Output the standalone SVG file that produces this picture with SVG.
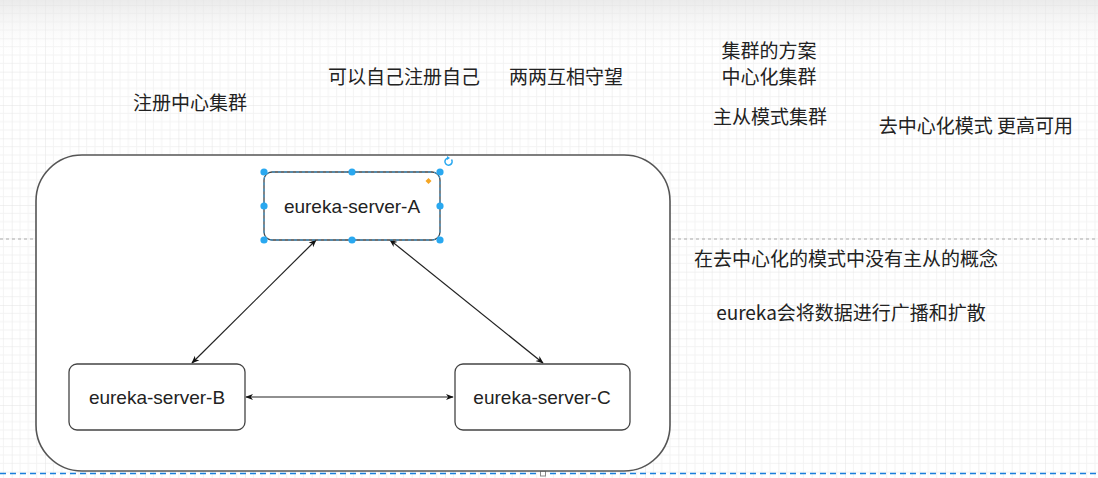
<svg xmlns="http://www.w3.org/2000/svg" width="1098" height="478" viewBox="0 0 1098 478">
<defs>
<pattern id="grid" patternUnits="userSpaceOnUse" x="11.7" y="5" width="33.333" height="33.333">
<path d="M8.333 0V33.333M16.667 0V33.333M25 0V33.333M0 8.333H33.333M0 16.667H33.333M0 25H33.333" stroke="#f3f3f3" stroke-width="1" fill="none"/>
<path d="M0 0V33.333M0 0H33.333" stroke="#e4e4e4" stroke-width="1" fill="none"/>
</pattern>
<linearGradient id="topfade" x1="0" y1="0" x2="0" y2="1">
<stop offset="0" stop-color="#e2e2e2" stop-opacity="0.7"/>
<stop offset="1" stop-color="#ffffff" stop-opacity="0"/>
</linearGradient>
<marker id="arr" viewBox="0 0 10 10" refX="9" refY="5" markerWidth="8" markerHeight="8" markerUnits="userSpaceOnUse" orient="auto-start-reverse">
<path d="M0 1L10 5L0 9L3 5Z" fill="#111"/>
</marker>
</defs>
<style>
.t{font-family:"Noto Sans CJK SC","Liberation Sans",sans-serif;font-size:19px;fill:#222;text-anchor:middle}
.n{font-family:"Liberation Sans","Noto Sans CJK SC",sans-serif;font-size:19px;fill:#222;text-anchor:middle}
.box{fill:#fff;stroke:#444;stroke-width:1.3}
.edge{stroke:#222;stroke-width:1.2;fill:none;marker-start:url(#arr);marker-end:url(#arr)}
.h{fill:#29a8f0}
</style>
<rect width="1098" height="478" fill="#fff"/>
<rect width="1098" height="478" fill="url(#grid)"/>
<rect width="1098" height="60" fill="url(#topfade)"/>
<line x1="0" y1="239" x2="1098" y2="239" stroke="#aaa" stroke-width="1" stroke-dasharray="3,3"/>
<line x1="0" y1="473.5" x2="1098" y2="473.5" stroke="#1a7fdc" stroke-width="1.5" stroke-dasharray="6,4"/>
<rect x="540.5" y="471" width="5" height="5" fill="#fff" stroke="#888" stroke-width="1"/>

<g id="cluster">
<rect x="36" y="155" width="634" height="316" rx="46" ry="46" fill="#fff" stroke="#555" stroke-width="1.6"/>
</g>

<g id="labels">
<text class="t" x="190" y="110">注册中心集群</text>
<text class="t" x="404" y="84">可以自己注册自己</text>
<text class="t" x="566" y="84">两两互相守望</text>
<text class="t" x="769" y="58">集群的方案</text>
<text class="t" x="769" y="84">中心化集群</text>
<text class="t" x="770" y="124">主从模式集群</text>
<text class="t" x="976" y="133">去中心化模式 更高可用</text>
<text class="t" x="846" y="266">在去中心化的模式中没有主从的概念</text>
<text class="t" x="851" y="320">eureka会将数据进行广播和扩散</text>
</g>

<g id="connectors">
<line class="edge" x1="316" y1="240" x2="192" y2="363"/>
<line class="edge" x1="390" y1="240" x2="543" y2="363"/>
<line class="edge" x1="246" y1="397" x2="453" y2="397"/>
</g>

<g id="node-a">
<rect class="box" x="264" y="172" width="176" height="68" rx="8"/>
<rect x="264" y="172" width="176" height="68" rx="8" fill="none" stroke="#3aa0e0" stroke-width="1" stroke-dasharray="3,3"/>
<text class="n" x="352" y="213">eureka-server-A</text>
<circle class="h" cx="264" cy="172" r="3.6"/>
<circle class="h" cx="352" cy="172" r="3.6"/>
<circle class="h" cx="440" cy="172" r="3.6"/>
<circle class="h" cx="264" cy="206" r="3.6"/>
<circle class="h" cx="440" cy="206" r="3.6"/>
<circle class="h" cx="264" cy="240" r="3.6"/>
<circle class="h" cx="352" cy="240" r="3.6"/>
<circle class="h" cx="440" cy="240" r="3.6"/>
<path d="M428.5 178L431.5 181L428.5 184L425.5 181Z" fill="#f5a623"/>
<path d="M451.5 159.5A3.6 3.6 0 1 1 448 158" fill="none" stroke="#29a8f0" stroke-width="1.5"/>
<path d="M447 156L450 158L447 160Z" fill="#29a8f0"/>
</g>

<g id="node-b">
<rect class="box" x="69" y="364" width="176" height="66" rx="8"/>
<text class="n" x="157" y="404">eureka-server-B</text>
</g>

<g id="node-c">
<rect class="box" x="455" y="364" width="175" height="66" rx="8"/>
<text class="n" x="542" y="404">eureka-server-C</text>
</g>
</svg>
